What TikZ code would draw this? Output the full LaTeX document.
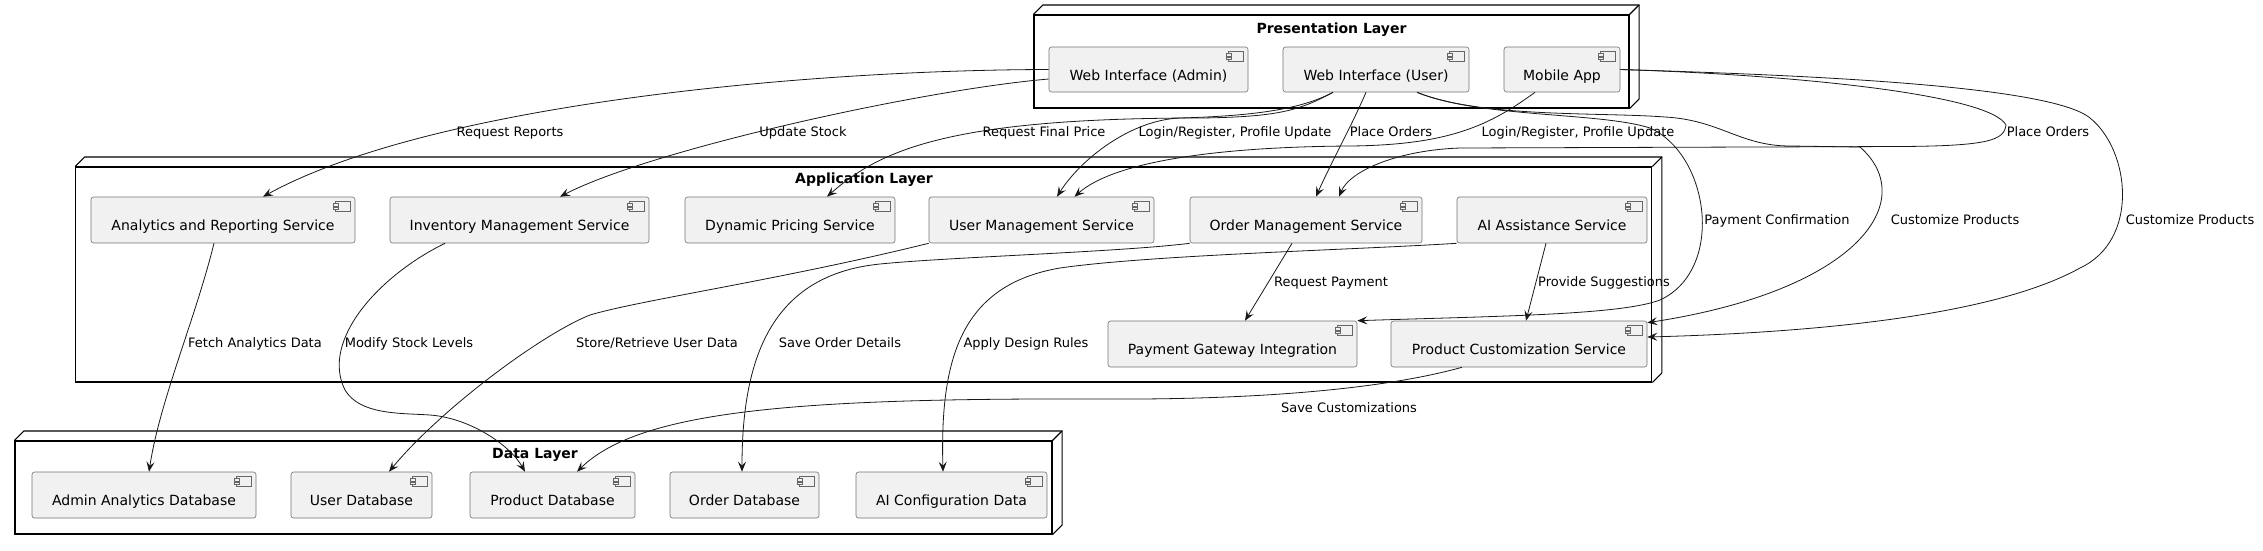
\documentclass[tikz,border=0pt]{standalone}
\usepackage{fontspec}
\setmainfont{DejaVu Sans}
\usetikzlibrary{calc,arrows.meta}
\definecolor{compfill}{HTML}{F1F1F1}
\definecolor{edgec}{HTML}{181818}
\begin{document}
\begin{tikzpicture}[x=1pt,y=-1pt,
  comp/.style={draw=black!55, line width=0.6pt, fill=compfill, rounded corners=2.5pt,
    minimum height=46pt, inner sep=0pt, font=\fontsize{14}{16}\selectfont,
    text height=22pt, text depth=1pt},
  layer/.style={draw=black, line width=1.1pt, inner sep=0pt},
  layerline/.style={draw=black, line width=1.1pt, line join=miter},
  ltitle/.style={font=\fontsize{14}{16}\selectfont\bfseries, inner sep=0pt, text height=11pt, text depth=3pt},
  lab/.style={font=\fontsize{13}{15}\selectfont, inner sep=0pt, text height=10pt, text depth=3pt},
  edge/.style={draw=edgec, line width=0.8pt, -{Stealth[length=10pt,width=8pt,inset=4pt]}},
  icon/.style={draw=black!60, line width=0.5pt, fill=compfill},
]
\useasboundingbox (0,0) rectangle (2263,550);

% ---------- Presentation Layer ----------
\node[layer, minimum width=595pt, minimum height=93pt] (pl) at (1331.5,61.5) {};
\node[ltitle] (plt) at (1331.5,29) {Presentation Layer};
\node[comp, minimum width=199pt, minimum height=45pt] (wa) at (1148.5,69.5) {Web Interface (Admin)};
\node[comp, minimum width=186pt, minimum height=45pt] (wu) at (1376,69.5) {Web Interface (User)};
\node[comp, minimum width=116pt, minimum height=45pt] (mob) at (1562,69.5) {Mobile App};

% ---------- Application Layer ----------
\node[layer, minimum width=1576pt, minimum height=215pt] (al) at (863.8,274.5) {};
\node[ltitle] (alt) at (864,179) {Application Layer};
\node[comp, minimum width=264pt] (an) at (223,220) {Analytics and Reporting Service};
\node[comp, minimum width=259pt] (inv) at (519.5,220) {Inventory Management Service};
\node[comp, minimum width=210pt] (dp) at (790,220) {Dynamic Pricing Service};
\node[comp, minimum width=225pt] (um) at (1041.5,220) {User Management Service};
\node[comp, minimum width=232pt] (om) at (1306,220) {Order Management Service};
\node[comp, minimum width=190pt] (ai) at (1552,220) {AI Assistance Service};
\node[comp, minimum width=249pt] (pay) at (1232.5,344) {Payment Gateway Integration};
\node[comp, minimum width=256pt] (pc) at (1519,344) {Product Customization Service};

% ---------- Data Layer ----------
\node[layer, minimum width=1037pt, minimum height=93pt] (dl) at (533.5,487.5) {};
\node[ltitle] (dlt) at (535,454) {Data Layer};
\node[comp, minimum width=224pt] (adb) at (144,495) {Admin Analytics Database};
\node[comp, minimum width=141pt] (udb) at (361.5,495) {User Database};
\node[comp, minimum width=165pt] (pdb) at (552.5,495) {Product Database};
\node[comp, minimum width=149pt] (odb) at (744.5,495) {Order Database};
\node[comp, minimum width=191pt] (aic) at (951.5,495) {AI Configuration Data};

% 3D faces of the layer boxes
\foreach \l in {pl,al,dl}{
  \draw[layerline] (\l.north west) -- ++(9.5,-9.5) -- ($(\l.north east)+(9.5,-9.5)$)
     -- ($(\l.south east)+(9.5,-9.5)$) -- (\l.south east);
  \draw[layerline] (\l.north east) -- ++(9.5,-9.5);
}

% component icons
\foreach \n in {wa,wu,mob,an,inv,dp,um,om,ai,pay,pc,adb,udb,pdb,odb,aic}{
  \draw[icon] ($(\n.north east)+(-20,5)$) rectangle ++(15,10);
  \draw[icon] ($(\n.north east)+(-22.5,7)$) rectangle ++(5,2.5);
  \draw[icon] ($(\n.north east)+(-22.5,10.5)$) rectangle ++(5,2.5);
}

% ---------- Connectors ----------
\draw[edge] (wa.west) .. controls (800,70) and (430,105) .. ($(an.north)+(40,0)$);
\draw[edge] ($(wa.west)+(0,9.5)$) .. controls (920,90) and (650,150) .. ($(inv.north)+(40.5,0)$);
\draw[edge] ($(wu.south)+(-43,0)$) .. controls (1300,110) and (1280,117) .. (1200,118)
   .. controls (950,118) and (880,150) .. ($(dp.north)+(37,0)$);
\draw[edge] ($(wu.south)+(-43,0)$) .. controls (1300,110) and (1250,116) .. (1180,118)
   .. controls (1130,120) and (1080,160) .. ($(um.north)+(15.5,0)$);
\draw[edge] ($(mob.south)+(-27,0)$) .. controls (1490,125) and (1450,145) .. (1350,146)
   .. controls (1200,147) and (1110,165) .. ($(um.north)+(33,0)$);
\draw[edge] ($(wu.south)+(-10,0)$) .. controls (1352,125) and (1330,165) .. ($(om.north)+(10,0)$);
\draw[edge] (mob.east) .. controls (1800,75) and (1990,95) .. (2006,125)
   .. controls (2004,140) and (1990,146) .. (1900,146.5) -- (1460,148)
   .. controls (1400,150) and (1350,170) .. ($(om.north)+(33,0)$);
\draw[edge] ($(wu.south)+(41,0)$) .. controls (1480,118) and (1600,112) .. (1650,128)
   .. controls (1710,155) and (1725,270) .. (1660,300)
   .. controls (1620,315) and (1500,316) .. (pay.north east);
\draw[edge] ($(wu.south)+(41,0)$) .. controls (1480,118) and (1600,112) .. (1665,117)
   .. controls (1720,120) and (1740,146) .. (1790,146) -- (1860,147)
   .. controls (1920,200) and (1860,290) .. ($(pc.north east)+(0,2)$);
\draw[edge] (mob.east) .. controls (1800,75) and (2050,85) .. (2090,118)
   .. controls (2130,150) and (2140,240) .. (2080,268)
   .. controls (1990,318) and (1800,333) .. ($(pc.east)+(0,-7)$);
\draw[edge] ($(om.south)+(-14,0)$) -- ($(pay.north)+(12.5,0)$);
\draw[edge] ($(ai.south)+(-6,0)$) -- ($(pc.north)+(7,0)$);
\draw[edge] ($(an.south)+(-9,0)$) .. controls (195,320) and (160,400) .. ($(adb.north)+(5,0)$);
\draw[edge] ($(inv.south)+(-74.5,0)$) .. controls (380,275) and (320,340) .. (345,390)
   .. controls (360,415) and (400,413) .. (430,415)
   .. controls (470,418) and (510,445) .. ($(pdb.north)+(-27.5,0)$);
\draw[edge] (um.south west) .. controls (780,280) and (640,300) .. (590,315)
   .. controls (540,335) and (440,410) .. ($(udb.north)+(27.5,0)$);
\draw[edge] (om.south west) .. controls (1120,252) and (950,257) .. (880,264)
   .. controls (770,275) and (742,360) .. ($(odb.north)+(-2.5,0)$);
\draw[edge] (ai.south west) .. controls (1350,250) and (1150,255) .. (1060,268)
   .. controls (960,285) and (940,360) .. ($(aic.north)+(-8.5,0)$);
\draw[edge] ($(pc.south)+(-57,0)$) .. controls (1380,390) and (1250,400) .. (1100,399)
   .. controls (800,398) and (640,410) .. ($(pdb.north)+(24.5,0)$);

% ---------- Connector labels ----------
\node[lab] (t1) at (510,133) {Request Reports};
\node[lab] (t2) at (803,133) {Update Stock};
\node[lab] (t3) at (1044,133) {Request Final Price};
\node[lab] (t4) at (1235,133) {Login/Register, Profile Update};
\node[lab] (t5) at (1391,133) {Place Orders};
\node[lab] (t6) at (1578,133) {Login/Register, Profile Update};
\node[lab] (t7) at (2048,133) {Place Orders};
\node[lab] (t8) at (1777,221) {Payment Confirmation};
\node[lab] (t9) at (1955,221) {Customize Products};
\node[lab] (t10) at (2190,221) {Customize Products};
\node[lab] (t11) at (1331,283) {Request Payment};
\node[lab] (t12) at (1604,283) {Provide Suggestions};
\node[lab] (t13) at (255,344) {Fetch Analytics Data};
\node[lab] (t14) at (409,344) {Modify Stock Levels};
\node[lab] (t15) at (657,344) {Store/Retrieve User Data};
\node[lab] (t16) at (840,344) {Save Order Details};
\node[lab] (t17) at (1026,344) {Apply Design Rules};
\node[lab] (t18) at (1349,409) {Save Customizations};
\end{tikzpicture}
\end{document}
